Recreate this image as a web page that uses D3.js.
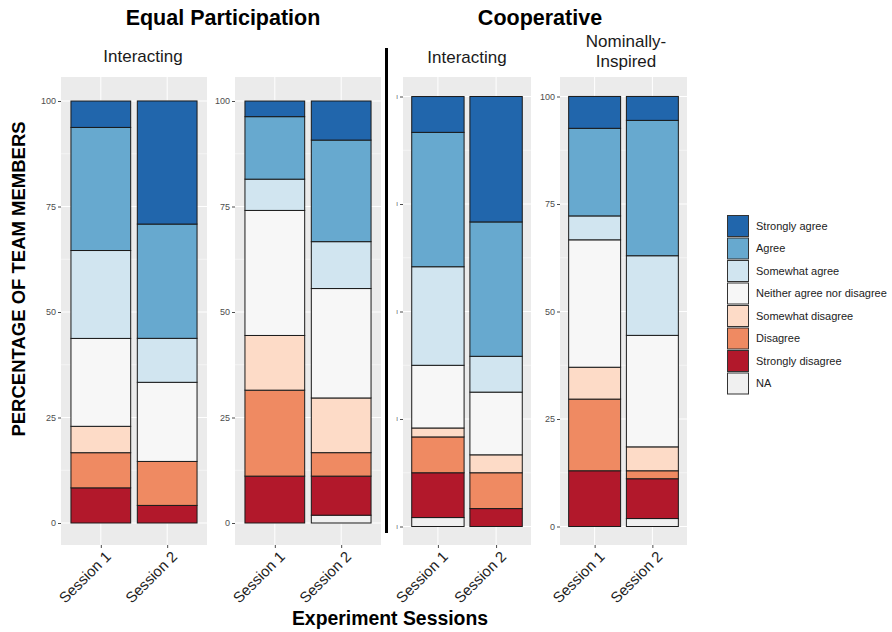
<!DOCTYPE html>
<html>
<head>
<meta charset="utf-8">
<script src="https://cdn.jsdelivr.net/npm/d3@7"></script>
<style>
  html, body { margin: 0; padding: 0; background: #ffffff; }
  svg { display: block; }
</style>
</head>
<body>
<svg id="chart" width="892" height="632"></svg>
<script>
// ---------------- DATA ----------------
const categories = ["Strongly agree", "Agree", "Somewhat agree", "Neither agree nor disagree",
                    "Somewhat disagree", "Disagree", "Strongly disagree", "NA"];
const stackOrder = ["NA", "Strongly disagree", "Disagree", "Somewhat disagree",
                    "Neither agree nor disagree", "Somewhat agree", "Agree", "Strongly agree"];
const sessions = ["Session 1", "Session 2"];
const groupTitles = ["Equal Participation", "Cooperative"];
const panelLabels = [["Interacting"], [], ["Interacting"], ["Nominally-", "Inspired"]];
const yTicks = [0, 25, 50, 75, 100];
const yTickLabels = [["0", "25", "50", "75", "100"], ["0", "25", "50", "75", "100"],
                     ["I", "I", "I", "I", "I"], ["0", "25", "50", "75", "100"]];
const colors = ["#2166ac", "#67a9cf", "#d1e5f0", "#f7f7f7", "#fddbc7", "#ef8a62", "#b2182b", "#f0f0f0"];

// percentages per category, [Session 1, Session 2]
const panel1 = { // Equal Participation - Interacting
  "Strongly agree": [6.25, 29.17], "Agree": [29.17, 27.08], "Somewhat agree": [20.83, 10.42],
  "Neither agree nor disagree": [20.83, 18.75], "Somewhat disagree": [6.25, 0],
  "Disagree": [8.33, 10.42], "Strongly disagree": [8.33, 4.17], "NA": [0, 0]
};
const panel2 = { // Equal Participation - (second)
  "Strongly agree": [3.70, 9.26], "Agree": [14.81, 24.07], "Somewhat agree": [7.41, 11.11],
  "Neither agree nor disagree": [29.63, 25.93], "Somewhat disagree": [12.96, 12.96],
  "Disagree": [20.37, 5.56], "Strongly disagree": [11.11, 9.26], "NA": [0, 1.85]
};
const panel3 = { // Cooperative - Interacting
  "Strongly agree": [8.33, 29.17], "Agree": [31.25, 31.25], "Somewhat agree": [22.92, 8.33],
  "Neither agree nor disagree": [14.58, 14.58], "Somewhat disagree": [2.08, 4.17],
  "Disagree": [8.33, 8.33], "Strongly disagree": [10.42, 4.17], "NA": [2.08, 0]
};
const panel4 = { // Cooperative - Nominally-Inspired
  "Strongly agree": [7.41, 5.56], "Agree": [20.37, 31.48], "Somewhat agree": [5.56, 18.52],
  "Neither agree nor disagree": [29.63, 25.93], "Somewhat disagree": [7.41, 5.56],
  "Disagree": [16.67, 1.85], "Strongly disagree": [12.96, 9.26], "NA": [0, 1.85]
};
const panelData = [panel1, panel2, panel3, panel4];

// ---------------- LAYOUT ----------------
const FONT = "'Liberation Sans', Arial, Helvetica, sans-serif";
const panelBoxes = [
  { x0: 61,  x1: 207, top: 77, bottom: 545, y0: 523,   y100: 101 },
  { x0: 235, x1: 381, top: 77, bottom: 545, y0: 523,   y100: 101 },
  { x0: 403, x1: 531, top: 77, bottom: 545, y0: 526.5, y100: 96.5 },
  { x0: 560, x1: 687, top: 77, bottom: 545, y0: 526.5, y100: 96.5 }
];
const svg = d3.select("#chart");
const color = d3.scaleOrdinal().domain(categories).range(colors);

panelBoxes.forEach((b, i) => {
  const g = svg.append("g");
  const x = d3.scalePoint().domain(sessions).range([b.x0, b.x1]).padding(0.6);
  const bw = x.step() * 0.9;
  const y = d3.scaleLinear().domain([0, 100]).range([b.y0, b.y100]);

  g.append("rect").attr("x", b.x0).attr("y", b.top).attr("width", b.x1 - b.x0)
    .attr("height", b.bottom - b.top).attr("fill", "#ebebeb");
  [12.5, 37.5, 62.5, 87.5].forEach(v => {
    g.append("line").attr("x1", b.x0).attr("x2", b.x1).attr("y1", y(v)).attr("y2", y(v))
      .attr("stroke", "#fff").attr("stroke-width", 0.5);
  });
  yTicks.forEach(v => {
    g.append("line").attr("x1", b.x0).attr("x2", b.x1).attr("y1", y(v)).attr("y2", y(v))
      .attr("stroke", "#fff").attr("stroke-width", 1);
  });
  sessions.forEach(s => {
    g.append("line").attr("x1", x(s)).attr("x2", x(s)).attr("y1", b.top).attr("y2", b.bottom)
      .attr("stroke", "#fff").attr("stroke-width", 1);
  });

  const rows = sessions.map((s, si) => {
    const r = { session: s };
    categories.forEach(c => r[c] = panelData[i][c][si]);
    return r;
  });
  const stacked = d3.stack().keys(stackOrder)(rows);
  stacked.forEach(layer => {
    g.selectAll(null).data(layer.filter(d => d[1] - d[0] > 0)).enter().append("rect")
      .attr("x", d => x(d.data.session) - bw / 2)
      .attr("width", bw)
      .attr("y", d => y(d[1]))
      .attr("height", d => y(d[0]) - y(d[1]))
      .attr("fill", color(layer.key))
      .attr("stroke", "#1a1a1a").attr("stroke-width", 1);
  });

  const yAxis = d3.axisLeft(y).tickValues(yTicks).tickSize(3).tickPadding(2)
    .tickFormat((d, k) => yTickLabels[i][k]);
  const ya = g.append("g").attr("transform", `translate(${b.x0},0)`).call(yAxis);
  ya.select(".domain").remove();
  ya.selectAll("line").attr("stroke", "#4d4d4d");
  ya.selectAll("text").attr("fill", "#4d4d4d").attr("font-family", FONT)
    .attr("font-size", i === 2 ? 6 : 9);

  const xAxis = d3.axisBottom(x).tickSize(3).tickPadding(2);
  const xa = g.append("g").attr("transform", `translate(0,${b.bottom})`).call(xAxis);
  xa.select(".domain").remove();
  xa.selectAll("line").attr("stroke", "#4d4d4d");
  xa.selectAll("text").attr("fill", "#222").attr("font-family", FONT).attr("font-size", 15)
    .attr("text-anchor", "end").attr("dy", null)
    .attr("transform", "translate(7,9) rotate(-45)");
});

// strip labels
const stripPos = [{ x: 143, y: [62] }, null, { x: 467, y: [63] }, { x: 626, y: [47, 67] }];
panelLabels.forEach((lines, i) => {
  lines.forEach((t, k) => {
    svg.append("text").attr("x", stripPos[i].x).attr("y", stripPos[i].y[k])
      .attr("text-anchor", "middle").attr("font-family", FONT).attr("font-size", 17)
      .attr("fill", "#1a1a1a").text(t);
  });
});

// group titles
svg.append("text").attr("x", 223).attr("y", 25).attr("text-anchor", "middle")
  .attr("font-family", FONT).attr("font-weight", "bold").attr("font-size", 21.5).text(groupTitles[0]);
svg.append("text").attr("x", 540).attr("y", 25).attr("text-anchor", "middle")
  .attr("font-family", FONT).attr("font-weight", "bold").attr("font-size", 21.5).text(groupTitles[1]);

// divider
svg.append("line").attr("x1", 386.5).attr("x2", 386.5).attr("y1", 48).attr("y2", 533)
  .attr("stroke", "#000").attr("stroke-width", 3);

// axis titles
svg.append("text").attr("transform", "translate(25,279) rotate(-90)").attr("text-anchor", "middle")
  .attr("font-family", FONT).attr("font-weight", "bold").attr("font-size", 18.5)
  .text("PERCENTAGE OF TEAM MEMBERS");
svg.append("text").attr("x", 390).attr("y", 625).attr("text-anchor", "middle")
  .attr("font-family", FONT).attr("font-weight", "bold").attr("font-size", 19.4)
  .text("Experiment Sessions");

// legend
const lg = svg.append("g").attr("transform", "translate(727,215)");
categories.forEach((c, k) => {
  lg.append("rect").attr("x", 0.5).attr("y", k * 22.5 + 0.5).attr("width", 21).attr("height", 21)
    .attr("fill", color(c)).attr("stroke", "#333").attr("stroke-width", 1);
  lg.append("text").attr("x", 29).attr("y", k * 22.5 + 11).attr("dy", "0.35em")
    .attr("font-family", FONT).attr("font-size", 11).attr("fill", "#222").text(c);
});
</script>
</body>
</html>
